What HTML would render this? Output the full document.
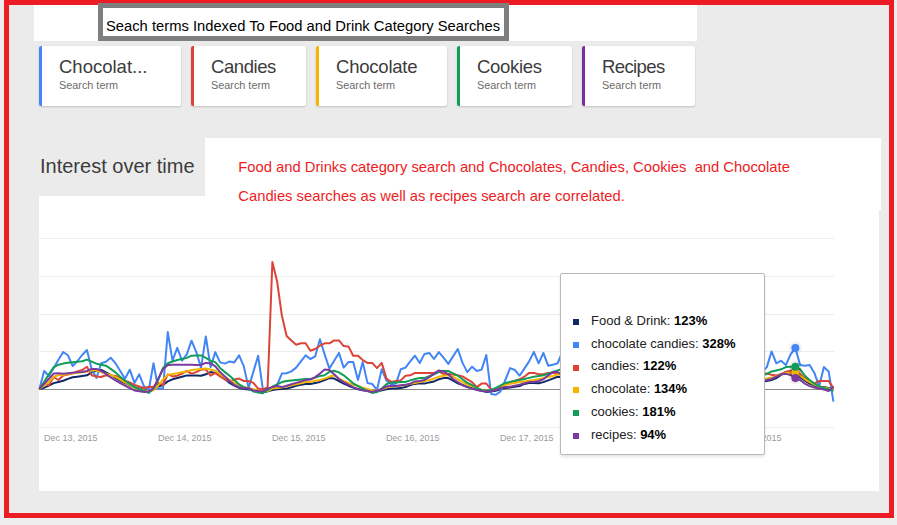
<!DOCTYPE html>
<html>
<head>
<meta charset="utf-8">
<style>
html,body{margin:0;padding:0;}
body{width:897px;height:525px;overflow:hidden;background:#ededed;font-family:"Liberation Sans",sans-serif;position:relative;}
.abs{position:absolute;}
#inner{left:9px;top:5px;width:880px;height:508px;background:#ebebeb;}
#frame{left:4px;top:0px;width:880px;height:508px;border:5px solid #ed1c24;border-top-width:5px;}
#topbar{left:34px;top:5px;width:663px;height:36px;background:#fff;}
#titlebox{left:98px;top:3px;width:401px;height:28px;border:5px solid #7f7f7f;background:#fff;}
#titletext{left:106px;top:16.9px;font-size:14.76px;line-height:18px;color:#000;white-space:nowrap;}
.card{top:46px;height:60px;background:#fff;border-radius:2px;box-shadow:0 1px 2px rgba(0,0,0,0.18);}
.card .bar{position:absolute;left:0;top:0;width:3px;height:100%;border-radius:2px 0 0 2px;}
.card .t{position:absolute;left:20px;top:10px;font-size:18.5px;line-height:22px;color:#3c3c3c;white-space:nowrap;}
.card .s{position:absolute;left:20px;top:32px;font-size:10.85px;line-height:14px;color:#6b6b6b;white-space:nowrap;}
#chartcard{left:39px;top:196px;width:840px;height:295px;background:#fff;}
#notebox{left:205px;top:138px;width:676px;height:72px;background:#fff;}
#iot{left:40px;top:154px;font-size:20px;line-height:24px;color:#3c3c3c;white-space:nowrap;}
.note{left:238.3px;font-size:14.77px;line-height:18px;color:#ed1c24;white-space:nowrap;}
#tip{left:560px;top:273px;width:203px;height:180px;background:#fff;border:1px solid #b8b8b8;border-radius:2px;box-shadow:0 2px 3px rgba(0,0,0,0.10);}
.row{position:absolute;left:30px;font-size:13px;line-height:16px;color:#222;white-space:nowrap;}
.row b{color:#000;}
.sq{position:absolute;left:12px;width:6px;height:6px;}
</style>
</head>
<body>
<div class="abs" id="inner"></div>
<div class="abs" id="topbar"></div>
<div class="abs" id="frame"></div>
<div class="abs" id="titlebox"></div>
<div class="abs" id="titletext">Seach terms Indexed To Food and Drink Category Searches</div>

<div class="abs card" style="left:39px;width:142px;"><div class="bar" style="background:#4285f4"></div><div class="t">Chocolat...</div><div class="s">Search term</div></div>
<div class="abs card" style="left:191px;width:115px;"><div class="bar" style="background:#db4437"></div><div class="t" style="letter-spacing:-0.43px">Candies</div><div class="s">Search term</div></div>
<div class="abs card" style="left:316px;width:131px;"><div class="bar" style="background:#f4b400"></div><div class="t" style="letter-spacing:-0.22px">Chocolate</div><div class="s">Search term</div></div>
<div class="abs card" style="left:457px;width:115px;"><div class="bar" style="background:#0f9d58"></div><div class="t" style="letter-spacing:-0.31px">Cookies</div><div class="s">Search term</div></div>
<div class="abs card" style="left:582px;width:113px;"><div class="bar" style="background:#7b2fa0"></div><div class="t" style="letter-spacing:-0.61px">Recipes</div><div class="s">Search term</div></div>

<div class="abs" id="chartcard"></div>
<div class="abs" id="notebox"></div>
<div class="abs" id="iot">Interest over time</div>
<div class="abs note" style="top:157.5px;">Food and Drinks category search and Chocolates, Candies, Cookies&nbsp; and Chocolate</div>
<div class="abs note" style="top:186.5px;">Candies searches as well as recipes search are correlated.</div>

<svg class="abs" id="chart" style="left:0;top:0" width="897" height="525" viewBox="0 0 897 525">
<line x1="39" y1="238.5" x2="834" y2="238.5" stroke="#ededed" stroke-width="1"/>
<line x1="39" y1="276.5" x2="834" y2="276.5" stroke="#ededed" stroke-width="1"/>
<line x1="39" y1="314.5" x2="834" y2="314.5" stroke="#ededed" stroke-width="1"/>
<line x1="39" y1="351.5" x2="834" y2="351.5" stroke="#ededed" stroke-width="1"/>
<line x1="39" y1="427.5" x2="834" y2="427.5" stroke="#ededed" stroke-width="1"/>
<line x1="39" y1="389.5" x2="834" y2="389.5" stroke="#8a8a8a" stroke-width="1.2"/>
<polyline fill="none" stroke="#0f2966" stroke-width="2" stroke-linejoin="round" points="39.40,389 44.15,387.7 48.91,385.6 53.66,383.1 58.42,382 63.17,380.8 67.93,378.9 72.68,377.3 77.44,376.7 82.19,376 86.94,375.3 91.70,372.4 96.45,370.8 101.21,370 105.96,372.3 110.72,375.1 115.47,378 120.23,380.7 124.98,383.1 129.74,385.2 134.49,387.1 139.24,388.5 144.00,390 148.75,391 153.51,389.5 158.26,386.5 163.02,385 167.77,381.4 172.53,379.3 177.28,378 182.03,376.7 186.79,375.4 191.54,375.5 196.30,375.6 201.05,375.7 205.81,374.3 210.56,372.1 215.32,372.9 220.07,375.7 224.83,379 229.58,382.9 234.33,385.7 239.09,387.9 243.84,389 248.60,389.5 253.35,390 258.11,391 262.86,391.9 267.62,391.4 272.37,390 277.12,389.3 281.88,389 286.63,388.6 291.39,387.2 296.14,385.7 300.90,384.8 305.65,383.9 310.41,383.9 315.16,382.9 319.92,381.9 324.67,380 329.42,378.1 334.18,378.6 338.93,381 343.69,383.6 348.44,385.7 353.20,387.6 357.95,389 362.71,390 367.46,390.7 372.21,391.4 376.97,391 381.72,390.4 386.48,389.3 391.23,388.6 395.99,388.6 400.74,387.9 405.50,387.1 410.25,385 415.01,383.9 419.76,383.3 424.51,383.6 429.27,382.4 434.02,381.4 438.78,379.3 443.53,378.1 448.29,378.1 453.04,380.7 457.80,383.3 462.55,385 467.31,387.1 472.06,388.1 476.81,389.6 481.57,390.7 486.32,391.9 491.08,391.4 495.83,390.7 500.59,389 505.34,388.1 510.10,387.6 514.85,386.7 519.60,386.1 524.36,383.9 529.11,382.9 533.87,382.9 538.62,383.3 543.38,382.1 548.13,380.4 552.89,378.6 557.64,376.7 562.39,377.5"/>
<polyline fill="none" stroke="#0f2966" stroke-width="2" stroke-linejoin="round" points="762.08,381.5 766.84,381 771.59,380 776.35,378.1 781.10,375 785.86,371.9 790.61,371.4 795.37,373.6 800.12,377.1 804.87,380.7 809.63,383.6 814.38,385.7 819.14,386.7 823.89,387.1 828.65,387.9 833.40,388.6"/>
<polyline fill="none" stroke="#4285f4" stroke-width="2" stroke-linejoin="round" points="39.40,389 44.15,371 48.91,376 53.66,368 58.42,359.7 63.17,352 67.93,355.3 72.68,366 77.44,361 82.19,355 86.94,350 91.70,369.3 96.45,378 101.21,363.3 105.96,361.7 110.72,357.7 115.47,363.3 120.23,371 124.98,378.7 129.74,369.7 134.49,382.9 139.24,374.3 144.00,386.4 148.75,390 153.51,363.3 158.26,388.6 163.02,388.6 167.77,332.1 172.53,360.7 177.28,347.9 182.03,360.7 186.79,354.3 191.54,340.7 196.30,352.1 201.05,367.9 205.81,336.4 210.56,367.1 215.32,352.1 220.07,362.4 224.83,363.6 229.58,361.4 234.33,362.4 239.09,355.3 243.84,366.4 248.60,387.9 253.35,371.9 258.11,355.7 262.86,389.3 267.62,389 272.37,387.9 277.12,385 281.88,373.6 286.63,373.3 291.39,371.4 296.14,367.6 300.90,361.4 305.65,355.4 310.41,359 315.16,356.4 319.92,339.3 324.67,354.5 329.42,368.6 334.18,360.7 338.93,352.9 343.69,367.6 348.44,362.1 353.20,362.1 357.95,380 362.71,361.9 367.46,382.9 372.21,383.9 376.97,390 381.72,369.3 386.48,380.7 391.23,384.3 395.99,383.6 400.74,369.3 405.50,367.6 410.25,361.4 415.01,355.7 419.76,363 424.51,353.9 429.27,352.9 434.02,359 438.78,352.1 443.53,357.6 448.29,363.9 453.04,356.4 457.80,349 462.55,362.9 467.31,372.1 472.06,366.7 476.81,371 481.57,369.6 486.32,355 491.08,393.9 495.83,394.7 500.59,391.4 505.34,380 510.10,368.1 514.85,370 519.60,375.7 524.36,368.6 529.11,361.4 533.87,351.9 538.62,363.3 543.38,352.9 548.13,365.7 552.89,364.7 557.64,363.3 562.39,352"/>
<polyline fill="none" stroke="#4285f4" stroke-width="2" stroke-linejoin="round" points="762.08,372 766.84,367.1 771.59,351.4 776.35,363.3 781.10,360.7 785.86,365 790.61,354.3 795.37,347.9 800.12,365 804.87,365.7 809.63,365 814.38,372.9 819.14,386.4 823.89,367.1 828.65,371.4 833.40,401.7"/>
<polyline fill="none" stroke="#db4437" stroke-width="2" stroke-linejoin="round" points="39.40,389 44.15,383.3 48.91,385.3 53.66,377 58.42,380 63.17,375.5 67.93,374.5 72.68,373.3 77.44,371.5 82.19,370 86.94,366.7 91.70,375.3 96.45,376.5 101.21,377 105.96,375.3 110.72,375.5 115.47,376 120.23,378 124.98,380.7 129.74,382.5 134.49,385 139.24,386.4 144.00,388 148.75,386.7 153.51,387.1 158.26,382.9 163.02,385 167.77,374.3 172.53,376.4 177.28,375.7 182.03,373.5 186.79,371 191.54,373.6 196.30,372.1 201.05,369.6 205.81,369.3 210.56,375.7 215.32,372.9 220.07,376.4 224.83,379.3 229.58,381.4 234.33,379.5 239.09,378.6 243.84,381 248.60,381 253.35,382.9 258.11,388.6 262.86,389.3 267.62,387.1 272.37,262 277.12,281.5 281.88,315.7 286.63,336 291.39,340.5 296.14,344.7 300.90,343.3 305.65,343.3 310.41,350.7 315.16,349 319.92,345.7 324.67,343.3 329.42,343.3 334.18,340.4 338.93,340.4 343.69,346.1 348.44,346.4 353.20,355.7 357.95,355.7 362.71,360 367.46,362.9 372.21,362.9 376.97,368.1 381.72,362.9 386.48,378.6 391.23,381.9 395.99,381 400.74,380.4 405.50,375.7 410.25,375.3 415.01,372.9 419.76,372.9 424.51,372.9 429.27,372.9 434.02,372.9 438.78,371.5 443.53,373.9 448.29,374 453.04,374.5 457.80,375.3 462.55,376.4 467.31,379.3 472.06,382.1 476.81,387.1 481.57,383.6 486.32,383.6 491.08,389.3 495.83,390 500.59,386.4 505.34,384 510.10,382.1 514.85,381 519.60,379.3 524.36,376.7 529.11,372.9 533.87,372.9 538.62,374.3 543.38,374.3 548.13,372.9 552.89,372.9 557.64,373.6 562.39,374"/>
<polyline fill="none" stroke="#db4437" stroke-width="2" stroke-linejoin="round" points="762.08,373.6 766.84,373.6 771.59,374.7 776.35,375.5 781.10,374 785.86,372 790.61,370.7 795.37,371 800.12,374 804.87,378 809.63,381 814.38,383.6 819.14,381 823.89,381 828.65,381 833.40,387.9"/>
<polyline fill="none" stroke="#f4b400" stroke-width="2" stroke-linejoin="round" points="39.40,389 44.15,385.6 48.91,382 53.66,376.7 58.42,375.2 63.17,375 67.93,374.1 72.68,373.3 77.44,372.7 82.19,372.3 86.94,371.6 91.70,370.1 96.45,370.5 101.21,372 105.96,373.6 110.72,375.2 115.47,376.9 120.23,379.6 124.98,382.3 129.74,384.9 134.49,387.7 139.24,389.3 144.00,390.4 148.75,391.4 153.51,390.2 158.26,385.5 163.02,379.3 167.77,375 172.53,374.1 177.28,373.3 182.03,372.3 186.79,371.4 191.54,370 196.30,369.5 201.05,369 205.81,368.6 210.56,369.6 215.32,370.7 220.07,374.3 224.83,377.1 229.58,380 234.33,382.9 239.09,385 243.84,387.1 248.60,387.9 253.35,389.3 258.11,390.4 262.86,391.4 267.62,391 272.37,388.6 277.12,387.9 281.88,387.6 286.63,386.4 291.39,385.3 296.14,384.3 300.90,383.2 305.65,382.1 310.41,381.9 315.16,380.7 319.92,380 324.67,378.6 329.42,376.7 334.18,375.3 338.93,378.6 343.69,381 348.44,382.9 353.20,384.7 357.95,385.7 362.71,387.6 367.46,389 372.21,390.7 376.97,390.4 381.72,389.3 386.48,387.6 391.23,386.4 395.99,386.1 400.74,385.7 405.50,385 410.25,383.9 415.01,382.9 419.76,382.1 424.51,381 429.27,380 434.02,378.6 438.78,376.7 443.53,375.7 448.29,375.3 453.04,376.7 457.80,379.3 462.55,382.1 467.31,384.7 472.06,386.4 476.81,388.1 481.57,389.6 486.32,390.7 491.08,390.7 495.83,389.3 500.59,386.7 505.34,385 510.10,383.9 514.85,382.9 519.60,382.1 524.36,381.4 529.11,380.7 533.87,380 538.62,379.3 543.38,378.1 548.13,377.1 552.89,376.1 557.64,374.3 562.39,375"/>
<polyline fill="none" stroke="#f4b400" stroke-width="2" stroke-linejoin="round" points="762.08,379 766.84,378.6 771.59,377.6 776.35,376.1 781.10,374.3 785.86,373.3 790.61,372.4 795.37,372.9 800.12,375.7 804.87,379.3 809.63,382.1 814.38,384.7 819.14,386.4 823.89,387.6 828.65,388.6 833.40,389.6"/>
<polyline fill="none" stroke="#0f9d58" stroke-width="2" stroke-linejoin="round" points="39.40,389 44.15,381.7 48.91,374.4 53.66,367.3 58.42,364.7 63.17,363.6 67.93,362.7 72.68,362.3 77.44,361.7 82.19,361.3 86.94,359.6 91.70,361.7 96.45,363.7 101.21,364.7 105.96,365.7 110.72,368.9 115.47,372.4 120.23,376.7 124.98,380.7 129.74,384 134.49,387.1 139.24,389.3 144.00,391 148.75,392.9 153.51,388.6 158.26,380 163.02,367.9 167.77,363.3 172.53,361.5 177.28,360 182.03,359 186.79,357.9 191.54,355.7 196.30,355.5 201.05,355.4 205.81,357.9 210.56,360.7 215.32,362.1 220.07,367.9 224.83,372.1 229.58,375.7 234.33,380 239.09,384.3 243.84,387.1 248.60,388.6 253.35,391.4 258.11,392.4 262.86,393.3 267.62,390 272.37,386.7 277.12,384.3 281.88,382.1 286.63,381.1 291.39,380.5 296.14,380 300.90,379.5 305.65,379 310.41,379 315.16,377.6 319.92,376.1 324.67,375.2 329.42,371.9 334.18,370.7 338.93,372.4 343.69,375.3 348.44,379.3 353.20,383.3 357.95,386.1 362.71,388.6 367.46,391 372.21,392.9 376.97,392.1 381.72,388.6 386.48,384.3 391.23,382.4 395.99,382.4 400.74,381.9 405.50,381.9 410.25,380.4 415.01,379 419.76,378.1 424.51,378.1 429.27,376.1 434.02,374.3 438.78,372.1 443.53,371 448.29,371 453.04,373.3 457.80,375.7 462.55,379.3 467.31,382.9 472.06,385 476.81,387.9 481.57,390 486.32,390.7 491.08,390 495.83,387.9 500.59,385.3 505.34,382.9 510.10,381.9 514.85,380.7 519.60,380 524.36,379 529.11,377.9 533.87,376.7 538.62,376.1 543.38,375.3 548.13,373.6 552.89,371.9 557.64,370.4 562.39,369"/>
<polyline fill="none" stroke="#0f9d58" stroke-width="2" stroke-linejoin="round" points="762.08,375 766.84,374 771.59,371.4 776.35,370.4 781.10,369.3 785.86,367.1 790.61,366.7 795.37,366.7 800.12,369.3 804.87,375.7 809.63,380 814.38,383.6 819.14,386.1 823.89,387.9 828.65,389.3 833.40,391"/>
<polyline fill="none" stroke="#7b3aa0" stroke-width="2" stroke-linejoin="round" points="39.40,389 44.15,383.9 48.91,378.7 53.66,373.6 58.42,373.3 63.17,373.7 67.93,373.2 72.68,372.7 77.44,372.3 82.19,371.9 86.94,371 91.70,368.9 96.45,368.9 101.21,371 105.96,374 110.72,377.5 115.47,380.4 120.23,383 124.98,385.6 129.74,388 134.49,390.4 139.24,391.3 144.00,392.1 148.75,391.6 153.51,387.9 158.26,378.5 163.02,369.3 167.77,365 172.53,364.8 177.28,364.7 182.03,364.7 186.79,364.7 191.54,364.7 196.30,365.1 201.05,364.8 205.81,362.9 210.56,363.3 215.32,366.4 220.07,372.1 224.83,376.4 229.58,381 234.33,385 239.09,387.1 243.84,388.6 248.60,388.1 253.35,390.4 258.11,391.1 262.86,391.4 267.62,388.6 272.37,387.1 277.12,386.1 281.88,387.1 286.63,385.7 291.39,384.3 296.14,382.9 300.90,381.5 305.65,380 310.41,379.6 315.16,377.1 319.92,373.6 324.67,369.6 329.42,370 334.18,374.3 338.93,379 343.69,382.1 348.44,384.7 353.20,387.1 357.95,389.3 362.71,390.4 367.46,391 372.21,391.9 376.97,390.7 381.72,389 386.48,386.4 391.23,385.7 395.99,386.1 400.74,385.3 405.50,384.7 410.25,383.6 415.01,381.4 419.76,381 424.51,380 429.27,377.1 434.02,373.9 438.78,370.4 443.53,371.4 448.29,374.3 453.04,379 457.80,382.1 462.55,385 467.31,387.1 472.06,388.6 476.81,390 481.57,391 486.32,391.4 491.08,391 495.83,390 500.59,387.9 505.34,387.1 510.10,386.7 514.85,385.7 519.60,384.7 524.36,383.3 529.11,382.1 533.87,381.9 538.62,381 543.38,379.3 548.13,375.3 552.89,372.1 557.64,372.1 562.39,375"/>
<polyline fill="none" stroke="#7b3aa0" stroke-width="2" stroke-linejoin="round" points="762.08,380.5 766.84,380 771.59,379 776.35,376.7 781.10,374.3 785.86,373.9 790.61,375 795.37,377.9 800.12,380 804.87,383.6 809.63,386.1 814.38,387.6 819.14,388.6 823.89,389.6 828.65,391 833.40,387.1"/>
<circle cx="795.3655" cy="373.6" r="6.5" fill="#000" opacity="0.06"/>
<circle cx="795.3655" cy="347.9" r="6.5" fill="#000" opacity="0.06"/>
<circle cx="795.3655" cy="371" r="6.5" fill="#000" opacity="0.06"/>
<circle cx="795.3655" cy="372.9" r="6.5" fill="#000" opacity="0.06"/>
<circle cx="795.3655" cy="366.7" r="6.5" fill="#000" opacity="0.06"/>
<circle cx="795.3655" cy="377.9" r="6.5" fill="#000" opacity="0.06"/>
<circle cx="795.3655" cy="373.6" r="4" fill="#0f2966"/>
<circle cx="795.3655" cy="347.9" r="4" fill="#4285f4"/>
<circle cx="795.3655" cy="371" r="4" fill="#db4437"/>
<circle cx="795.3655" cy="372.9" r="4" fill="#f4b400"/>
<circle cx="795.3655" cy="366.7" r="4" fill="#0f9d58"/>
<circle cx="795.3655" cy="377.9" r="4" fill="#7b3aa0"/>
<text x="44" y="441" font-size="9" fill="#9a9a9a" font-family="Liberation Sans, sans-serif">Dec 13, 2015</text>
<text x="158" y="441" font-size="9" fill="#9a9a9a" font-family="Liberation Sans, sans-serif">Dec 14, 2015</text>
<text x="272" y="441" font-size="9" fill="#9a9a9a" font-family="Liberation Sans, sans-serif">Dec 15, 2015</text>
<text x="386" y="441" font-size="9" fill="#9a9a9a" font-family="Liberation Sans, sans-serif">Dec 16, 2015</text>
<text x="500" y="441" font-size="9" fill="#9a9a9a" font-family="Liberation Sans, sans-serif">Dec 17, 2015</text>
<text x="614" y="441" font-size="9" fill="#9a9a9a" font-family="Liberation Sans, sans-serif">Dec 18, 2015</text>
<text x="728" y="441" font-size="9" fill="#9a9a9a" font-family="Liberation Sans, sans-serif">Dec 19, 2015</text>
</svg>
<div class="abs" id="tip">
<div class="sq" style="top:45.0px;background:#0f2966"></div><div class="row" style="top:38.7px">Food &amp; Drink: <b>123%</b></div>
<div class="sq" style="top:67.8px;background:#4285f4"></div><div class="row" style="top:61.5px">chocolate candies: <b>328%</b></div>
<div class="sq" style="top:90.6px;background:#db4437"></div><div class="row" style="top:84.2px">candies: <b>122%</b></div>
<div class="sq" style="top:113.4px;background:#f4b400"></div><div class="row" style="top:107.0px">chocolate: <b>134%</b></div>
<div class="sq" style="top:136.2px;background:#0f9d58"></div><div class="row" style="top:129.7px">cookies: <b>181%</b></div>
<div class="sq" style="top:159.0px;background:#7b3aa0"></div><div class="row" style="top:152.5px">recipes: <b>94%</b></div>
</div>
</body>
</html>
